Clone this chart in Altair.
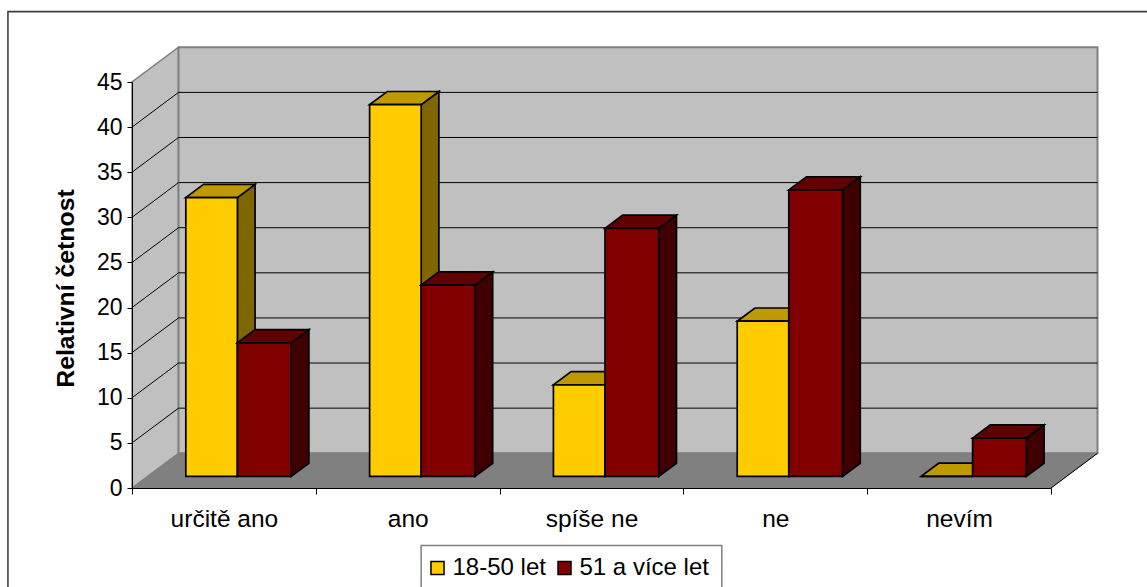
import altair as alt
import pandas as pd

categories = ["určitě ano", "ano", "spíše ne", "ne", "nevím"]
series_names = ["18-50 let", "51 a více let"]
young = [30.9, 41.2, 10.15, 17.2, 0]
older = [14.8, 21.2, 27.5, 31.75, 4.25]
value_ticks = [0, 5, 10, 15, 20, 25, 30, 35, 40, 45]

# Oblique projection: full depth of the box, expressed in axis units
DX, DY = 0.253, 3.85
X_MAX, Y_MAX = 5, 45
FRONT_D, BAR_D = 0.334, 0.38
FONT = "Liberation Sans"


def faces(values, left, right, face_id):
    """Top, side and front faces of one series' columns."""
    top, side, front = [], [], []
    d0, d1 = FRONT_D, FRONT_D + BAR_D
    for i, v in enumerate(values):
        x0, x1 = i + left, i + right
        y_f, y_b = v + d0 * DY, v + d1 * DY
        xf0, xf1 = x0 + d0 * DX, x1 + d0 * DX
        xb0, xb1 = x0 + d1 * DX, x1 + d1 * DX
        key = f"{face_id}{i}"
        top += [
            {"id": key, "x": xf0, "y": y_f, "y2": y_f},
            {"id": key, "x": xb0, "y": y_f, "y2": y_b},
            {"id": key, "x": xf1, "y": y_f, "y2": y_b},
            {"id": key, "x": xb1, "y": y_b, "y2": y_b},
        ]
        side += [
            {"id": key, "x": xf1, "y": d0 * DY, "y2": y_f},
            {"id": key, "x": xb1, "y": d1 * DY, "y2": y_b},
        ]
        front.append({"series": series_names[0] if face_id == "a" else series_names[1],
                      "x": xf0, "x2": xf1, "y": d0 * DY, "y2": y_f})
    return pd.DataFrame(top), pd.DataFrame(side), pd.DataFrame(front)


x_scale = alt.Scale(domain=[0, X_MAX], nice=False, zero=False)
y_scale = alt.Scale(domain=[0, Y_MAX], nice=False, zero=False)
color_scale = alt.Scale(domain=series_names, range=["#FFCC00", "#800000"])

# Axes carry the tick marks and labels; category names sit halfway between ticks
names_js = "[" + ",".join(f"'{c}'" for c in categories) + "]"
axis_values = [i / 2 for i in range(0, 11)]
x_axis = alt.Axis(
    values=axis_values, title=None, grid=False, zindex=1,
    labelExpr=f"datum.value % 1 ? {names_js}[floor(datum.value)] : ''",
    labelFont=FONT, labelFontSize=24.5, labelColor="black", labelPadding=13,
    labelOverlap=False, labelFlush=False, labelBound=False, labelAngle=0,
    tickColor="black", tickSize=6, tickOpacity=alt.expr("datum.value % 1 ? 0 : 1"),
    domainColor="black", domainWidth=1,
)
y_axis = alt.Axis(
    values=value_ticks, title="Relativní četnost", grid=False, zindex=1,
    labelFont=FONT, labelFontSize=23, labelColor="black", labelPadding=5,
    labelOverlap=False, labelFlush=False, labelBound=False,
    tickColor="black", tickSize=5, domainColor="black", domainWidth=1,
    titleFont=FONT, titleFontSize=24.8, titleFontWeight="bold", titleColor="black",
    titleX=-66, titleY=206, titleAlign="center", titleBaseline="middle",
)

X = alt.X("x:Q", scale=x_scale, axis=x_axis)
Y = alt.Y("y:Q", scale=y_scale, axis=y_axis)


def area_layer(df, fill, stroke, width):
    return alt.Chart(df).mark_area(
        fill=fill, stroke=stroke, strokeWidth=width, strokeJoin="miter",
        interpolate="linear", clip=False, opacity=1,
    ).encode(x=X, y=Y, y2="y2:Q", detail="id:N")


# Outer chart border, running off the canvas on the right and at the bottom
frame = alt.Chart(pd.DataFrame([{"x": -0.675, "x2": 5.6, "y": -13.0, "y2": 52.8}])).mark_rect(
    fill="white", stroke="#404040", strokeWidth=1.6, clip=False
).encode(x=X, x2="x2:Q", y=Y, y2="y2:Q")

# Legend box, also cut off by the bottom of the canvas
legend_box = alt.Chart(pd.DataFrame([{"x": 1.573, "x2": 3.209, "y": -13.0, "y2": -6.37}])).mark_rect(
    fill="white", stroke="#808080", strokeWidth=1.5, clip=False
).encode(x=X, x2="x2:Q", y=Y, y2="y2:Q")

# Box walls and floor
side_wall = area_layer(
    pd.DataFrame([
        {"id": "w", "x": 0, "y": 0, "y2": Y_MAX},
        {"id": "w", "x": DX, "y": DY, "y2": Y_MAX + DY},
    ]), "#C0C0C0", "#808080", 1.5)
back_wall = alt.Chart(pd.DataFrame([{"x": DX, "x2": X_MAX + DX, "y": DY, "y2": Y_MAX + DY}])).mark_rect(
    fill="#C0C0C0", stroke="#808080", strokeWidth=2, clip=False
).encode(x=X, x2="x2:Q", y=Y, y2="y2:Q")
floor = area_layer(
    pd.DataFrame([
        {"id": "f", "x": 0, "y": 0, "y2": 0},
        {"id": "f", "x": DX, "y": 0, "y2": DY},
        {"id": "f", "x": X_MAX, "y": 0, "y2": DY},
        {"id": "f", "x": X_MAX + DX, "y": DY, "y2": DY},
    ]), "#808080", "#808080", 1)

# Gridlines folding from the side wall onto the back wall
grid_rows = []
for v in value_ticks[1:-1]:
    grid_rows += [
        {"id": f"g{v}", "x": 0, "y": v},
        {"id": f"g{v}", "x": DX, "y": v + DY},
        {"id": f"g{v}", "x": X_MAX + DX, "y": v + DY},
    ]
grid = alt.Chart(pd.DataFrame(grid_rows)).mark_line(
    color="black", strokeWidth=1, clip=False
).encode(x=X, y=Y, detail="id:N")

edge = alt.Chart(pd.DataFrame([
    {"id": "e", "x": X_MAX, "y": 0},
    {"id": "e", "x": X_MAX + DX, "y": DY},
])).mark_line(color="black", strokeWidth=1, clip=False).encode(x=X, y=Y, detail="id:N")


def column_layers(values, left, right, face_id, top_color, side_color, legend):
    top, side, front = faces(values, left, right, face_id)
    color = alt.Color("series:N", scale=color_scale, legend=legend)
    front_layer = alt.Chart(front).mark_rect(
        stroke="black", strokeWidth=1.7, clip=False
    ).encode(x=X, x2="x2:Q", y=Y, y2="y2:Q", color=color)
    return [
        area_layer(side, side_color, "black", 1.7),
        area_layer(top, top_color, "black", 1.7),
        front_layer,
    ]


legend = alt.Legend(
    orient="none", legendX=293.5, legendY=474, direction="horizontal", title=None,
    padding=0, labelFont=FONT, labelFontSize=24, labelColor="black", labelOffset=3,
    symbolType="square", symbolSize=170, symbolStrokeColor="black",
    symbolStrokeWidth=1.5, columnPadding=6,
)

layers = [frame, legend_box, side_wall, back_wall, floor, grid, edge]
layers += column_layers(young, 0.2083, 0.4889, "a", "#BF9900", "#806600", legend)
layers += column_layers(older, 0.4889, 0.7817, "b", "#600000", "#400000", legend)

chart = alt.layer(*layers).properties(
    width=919,
    height=406,
    padding={"left": 132, "top": 82, "right": 96, "bottom": 99},
    autosize=alt.AutoSizeParams(type="none"),
    background="white",
).configure_view(stroke=None)

chart.save("out.html", embed_options={"renderer": "svg", "actions": False})
